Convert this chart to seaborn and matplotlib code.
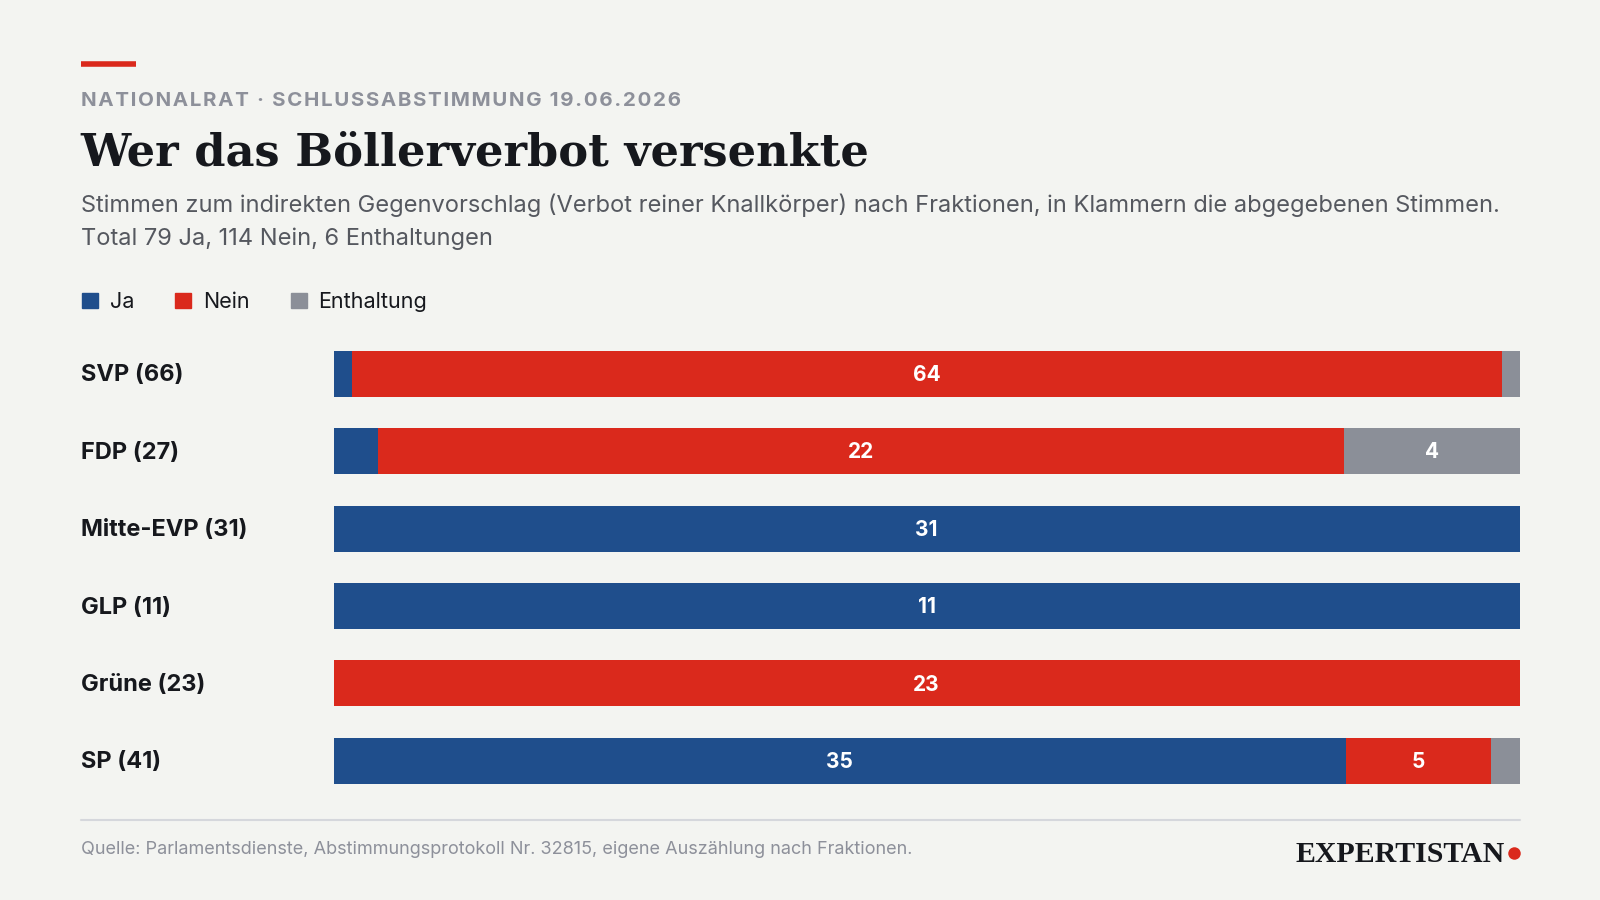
#%% import libraries
import numpy as np
import pandas as pd
import seaborn as sns
import matplotlib.pyplot as plt
from matplotlib.patches import Patch

#%% data
parties = ['SVP', 'FDP', 'Mitte-EVP', 'GLP', 'Grüne', 'SP']
ja = [1, 1, 31, 11, 0, 35]
nein = [64, 22, 0, 0, 23, 5]
enthaltung = [1, 4, 0, 0, 0, 1]

BG = '#f3f4f1'
BLUE = '#1f4e8c'
RED = '#da291c'
GREY = '#8b8f98'
DARK = '#16181d'

df = pd.DataFrame({'party': parties, 'ja': ja, 'nein': nein, 'enth': enthaltung})
df['total'] = df['ja'] + df['nein'] + df['enth']
df['label'] = df['party'] + ' (' + df['total'].astype(str) + ')'
# cumulative shares for the stacked look
df['c_ja'] = df['ja'] / df['total'] * 100
df['c_nein'] = (df['ja'] + df['nein']) / df['total'] * 100
df['c_all'] = 100.0

#%% plot
sns.set_theme(style='white')
plt.rcParams['font.family'] = ['Inter', 'DejaVu Sans']

fig = plt.figure(figsize=(16, 9), dpi=100, facecolor=BG)
ax = fig.add_axes([0.2086, 0.1117, 0.7411, 0.5158])
ax.set_facecolor(BG)

for col, color in [('c_all', GREY), ('c_nein', RED), ('c_ja', BLUE)]:
    sns.barplot(data=df, x=col, y='label', color=color, width=0.593,
                orient='h', ax=ax, saturation=1, linewidth=0)

ax.set_xlim(0, 100)
ax.set_ylim(len(df) - 0.5, -0.5)
ax.set_xlabel('')
ax.set_ylabel('')
ax.set_xticks([])
ax.set_yticks([])
sns.despine(ax=ax, left=True, bottom=True)

# value labels in the segments
for i, r in df.iterrows():
    start = 0
    for key in ['ja', 'nein', 'enth']:
        share = r[key] / r['total'] * 100
        if share >= 8:
            ax.text(start + share / 2, i + 0.015, str(r[key]), ha='center', va='center',
                    color='white', fontsize=15, fontweight='bold')
        start += share

# party labels
fig.canvas.draw()
for i, lab in enumerate(df['label']):
    y_disp = ax.transData.transform((0, i))[1] - 1.5
    fig.text(0.0505, y_disp / fig.bbox.height, lab, ha='left', va='center',
             fontsize=17, fontweight='bold', color=DARK)

#%% header
fig.add_artist(plt.Line2D([0.0505, 0.0848], [0.929, 0.929], color=RED, lw=4,
                          solid_capstyle='butt'))
kicker = 'NATIONALRAT · SCHLUSSABSTIMMUNG 19.06.2026'
fig.text(0.0505, 0.8875, '\u200a'.join(kicker), ha='left', va='center',
         fontsize=14.8, fontweight='bold', color='#8d909a')
fig.text(0.0505, 0.830, 'Wer das Böllerverbot versenkte', ha='left', va='center',
         fontsize=32.2, fontweight='bold', color=DARK,
         family=['DejaVu Serif'])
fig.text(0.0505, 0.7715,
         'Stimmen zum indirekten Gegenvorschlag (Verbot reiner Knallkörper) nach Fraktionen, '
         'in Klammern die abgegebenen Stimmen.',
         ha='left', va='center', fontsize=17, color='#55585f')
fig.text(0.0505, 0.7345, 'Total 79 Ja, 114 Nein, 6 Enthaltungen', ha='left',
         va='center', fontsize=17, color='#55585f')

handles = [Patch(color=BLUE, label='Ja'), Patch(color=RED, label='Nein'),
           Patch(color=GREY, label='Enthaltung')]
fig.legend(handles=handles, loc='center left', bbox_to_anchor=(0.039, 0.6645),
           ncol=3, frameon=False, fontsize=15.5, handlelength=0.75, handleheight=0.75,
           handletextpad=0.55, columnspacing=1.9, labelcolor=DARK)

#%% footer
fig.add_artist(plt.Line2D([0.0505, 0.9497], [0.0894, 0.0894], color='#d5d7dc', lw=1.5))
fig.text(0.0505, 0.0565,
         'Quelle: Parlamentsdienste, Abstimmungsprotokoll Nr. 32815, eigene Auszählung nach Fraktionen.',
         ha='left', va='center', fontsize=13, color='#8d909a')
fig.text(0.9405, 0.0505, 'EXPERTISTAN', ha='right', va='center', fontsize=21.5,
         fontweight='bold', color=DARK, family=['Liberation Serif', 'DejaVu Serif'])
fig.add_artist(plt.Line2D([0.9465], [0.0525], marker='o', markersize=9, color=RED,
                          markeredgewidth=0))

fig.savefig('out.png', dpi=100, facecolor=BG)
